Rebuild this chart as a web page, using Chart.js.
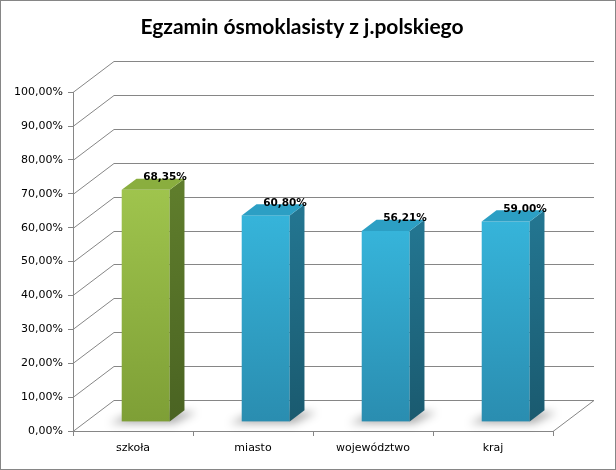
<!DOCTYPE html>
<html>
<head>
<meta charset="utf-8">
<script src="https://cdn.jsdelivr.net/npm/chart.js@4/dist/chart.umd.min.js"></script>
<style>
  body { margin: 0; background: #fff; }
  #wrap { width: 616px; height: 470px; border: 1px solid #868686; box-sizing: border-box; }
</style>
</head>
<body>
<div id="wrap"><canvas id="wykres"></canvas></div>
<script>
// dane z wykresu
const kategorie = ["szkoła", "miasto", "województwo", "kraj"];
const wyniki = [68.35, 60.80, 56.21, 59.00];
const osMax = 100;
const osKrok = 10;

// przesuniecie "glebi" 3D
const DX = 41, DY = -31;
const PRZOD = 0.31, GLEBIA = 0.36;

const kolory = [
  { front: ["#9fc44d", "#7e9f36"], bok: ["#5f7d2c", "#4a6322"], gora: "#8aae3f" },
  { front: ["#36b4da", "#2a8db0"], bok: ["#237590", "#1a5a6f"], gora: "#2c9fc4" },
];

const formatuj = (v) => v.toFixed(2).replace(".", ",") + "%";

const efekt3d = {
  id: "efekt3d",
  afterLayout(chart) {
    // tytul wysrodkowany nad obszarem z glebia, nie nad cala szerokoscia
    if (chart.titleBlock) chart.titleBlock.left += 38;
  },
  beforeDatasetsDraw(chart) {
    const { ctx, chartArea, scales } = chart;
    const y = scales.y;
    ctx.save();
    ctx.strokeStyle = "#868686";
    ctx.lineWidth = 1;
    // linie siatki na tylnej scianie
    y.ticks.forEach((t) => {
      const py = Math.round(y.getPixelForValue(t.value)) + 0.5;
      ctx.beginPath();
      ctx.moveTo(chartArea.left, py);
      ctx.lineTo(chartArea.left + DX, py + DY);
      ctx.lineTo(chartArea.right + DX, py + DY);
      ctx.stroke();
    });
    // prawa krawedz podlogi
    const pb = Math.round(chartArea.bottom) + 0.5;
    ctx.beginPath();
    ctx.moveTo(chartArea.right, pb);
    ctx.lineTo(chartArea.right + DX, pb + DY);
    ctx.stroke();
    ctx.restore();
  },
  afterDatasetsDraw(chart) {
    const { ctx, scales } = chart;
    const y = scales.y;
    const meta = chart.getDatasetMeta(0);
    meta.data.forEach((bar, i) => {
      const k = i === 0 ? kolory[0] : kolory[1];
      const ox = DX * PRZOD, oy = DY * PRZOD;
      const gx = DX * GLEBIA, gy = DY * GLEBIA;
      const l = bar.x - bar.width / 2 + ox;
      const r = bar.x + bar.width / 2 + ox;
      const top = y.getPixelForValue(wyniki[i]) + oy;
      const bot = y.getPixelForValue(0) + oy;

      // cien na podlodze
      ctx.save();
      ctx.filter = "blur(4px)";
      ctx.fillStyle = "rgba(0,0,0,0.32)";
      ctx.beginPath();
      ctx.moveTo(l - 12, bot + 2);
      ctx.lineTo(r + 4, bot + 2);
      ctx.lineTo(r + gx + 12, bot + gy + 2);
      ctx.lineTo(l + gx, bot + gy);
      ctx.closePath();
      ctx.fill();
      ctx.restore();

      ctx.save();
      // front
      let g = ctx.createLinearGradient(0, top, 0, bot);
      g.addColorStop(0, k.front[0]);
      g.addColorStop(1, k.front[1]);
      ctx.fillStyle = g;
      ctx.fillRect(l, top, r - l, bot - top);
      // bok
      g = ctx.createLinearGradient(0, top, 0, bot);
      g.addColorStop(0, k.bok[0]);
      g.addColorStop(1, k.bok[1]);
      ctx.fillStyle = g;
      ctx.beginPath();
      ctx.moveTo(r, top);
      ctx.lineTo(r + gx, top + gy);
      ctx.lineTo(r + gx, bot + gy);
      ctx.lineTo(r, bot);
      ctx.closePath();
      ctx.fill();
      // gora
      ctx.fillStyle = k.gora;
      ctx.beginPath();
      ctx.moveTo(l, top);
      ctx.lineTo(r, top);
      ctx.lineTo(r + gx, top + gy);
      ctx.lineTo(l + gx, top + gy);
      ctx.closePath();
      ctx.fill();

      // etykieta
      ctx.fillStyle = "#000";
      ctx.font = "bold 10.5px 'DejaVu Sans'";
      ctx.textAlign = "center";
      ctx.textBaseline = "middle";
      ctx.fillText(formatuj(wyniki[i]), bar.x + 32, top - 22 - oy);
      ctx.restore();
    });
  },
};

new Chart(document.getElementById("wykres"), {
  type: "bar",
  data: {
    labels: kategorie,
    datasets: [{
      data: wyniki,
      backgroundColor: "rgba(0,0,0,0)",
      borderWidth: 0,
      categoryPercentage: 1,
      barPercentage: 0.4,
    }],
  },
  options: {
    responsive: true,
    maintainAspectRatio: false,
    animation: false,
    layout: { padding: { left: 12, right: 62, top: 0, bottom: 0 } },
    plugins: {
      legend: { display: false },
      tooltip: { enabled: false },
      title: {
        display: true,
        text: "Egzamin ósmoklasisty z j.polskiego",
        color: "#000",
        font: { family: "Lato", size: 21, weight: "bold", lineHeight: 1.2 },
        padding: { top: 14, bottom: 52 },
      },
    },
    scales: {
      x: {
        afterFit: (s) => { s.height = 38; },
        border: { display: true, color: "#868686" },
        grid: { offset: true, drawOnChartArea: false, drawTicks: true, tickLength: 5, color: "#868686" },
        ticks: { color: "#000", padding: 6, font: { family: "DejaVu Sans", size: 11 } },
      },
      y: {
        min: 0,
        max: osMax,
        afterFit: (s) => { s.width = 60; },
        border: { display: true, color: "#868686" },
        grid: { drawOnChartArea: false, drawTicks: true, tickLength: 5, color: "#868686" },
        ticks: {
          stepSize: osKrok,
          color: "#000",
          padding: 5,
          font: { family: "DejaVu Sans", size: 11 },
          callback: (v) => formatuj(v),
        },
      },
    },
  },
  plugins: [efekt3d],
});
</script>
</body>
</html>
